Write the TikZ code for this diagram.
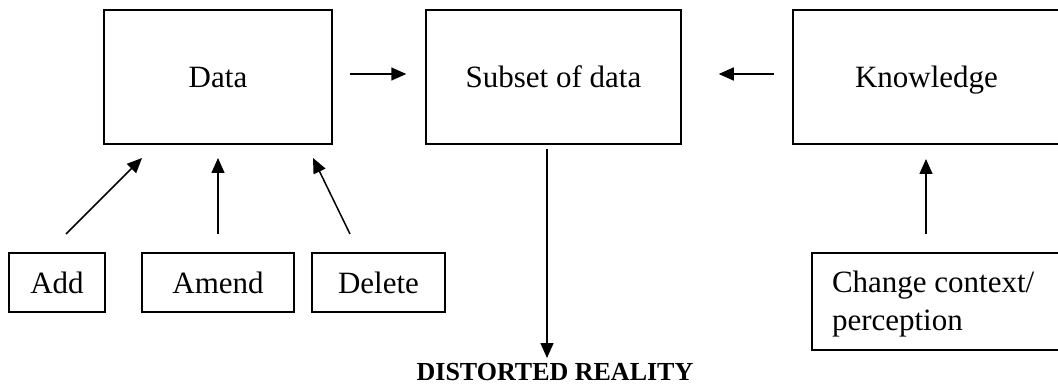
\documentclass[tikz,border=0pt]{standalone}
\usepackage{fontspec}
\setmainfont{Liberation Serif}
\usetikzlibrary{arrows.meta}
\tikzset{
  box/.style={draw, line width=1.5pt, rectangle, inner sep=0pt,
    font=\fontsize{31}{38.75}\selectfont},
  onebox/.style={box, text depth=0pt},
  arr/.style={line width=1.5pt, -{Triangle[length=15pt,width=13pt]}}
}
\begin{document}
\begin{tikzpicture}[x=1pt,y=-1pt]
  \useasboundingbox (0,0) rectangle (1058,385);
  \clip (0,0) rectangle (1058,385);

  % main row
  \node[onebox, minimum width=228pt, minimum height=134pt] (data) at (218,77) {Data};
  \node[onebox, minimum width=255pt, minimum height=134pt] (subset) at (553.5,77) {Subset of data};
  \node[onebox, minimum width=267pt, minimum height=134pt] (know) at (926.5,77) {Knowledge};

  % operations on the data
  \node[onebox, minimum width=96pt, minimum height=59pt] (add) at (57,282.5) {Add};
  \node[onebox, minimum width=152pt, minimum height=59pt] (amend) at (218,282.5) {Amend};
  \node[onebox, minimum width=133pt, minimum height=59pt] (delete) at (378.5,282.5) {Delete};

  % context change: frame and its two-line text
  \node[box, minimum width=253pt, minimum height=97pt] (change) at (938.5,301.5) {};
  \node[box, draw=none, text width=213pt, align=flush left, inner xsep=20pt]
        (changetext) at (938.5,304) {Change context/\\perception};

  % outcome
  \node[font=\fontsize{26}{30}\selectfont\bfseries, inner sep=0pt] (reality) at (555,372.5) {DISTORTED REALITY};

  % free connector ends
  \coordinate (addtail) at (66,234);
  \coordinate (addhead) at (142,158);
  \coordinate (amendtail) at (218,234);
  \coordinate (amendhead) at (218,158);
  \coordinate (deltail) at (350,234);
  \coordinate (delhead) at (313,158);
  \coordinate (knowtail) at (926,234);
  \coordinate (knowhead) at (926,159);
  \coordinate (downtail) at (547,149);
  \coordinate (downhead) at (547,358);

  \draw[arr] ([xshift=17pt,yshift=3pt]data.east) -- ([xshift=-19pt,yshift=3pt]subset.west);
  \draw[arr] ([xshift=-18pt,yshift=3pt]know.west) -- ([xshift=37pt,yshift=3pt]subset.east);

  \draw[arr] (addtail) -- (addhead);
  \draw[arr] (amendtail) -- (amendhead);
  \draw[arr] (deltail) -- (delhead);
  \draw[arr] (knowtail) -- (knowhead);
  \draw[arr] (downtail) -- (downhead);
\end{tikzpicture}
\end{document}
